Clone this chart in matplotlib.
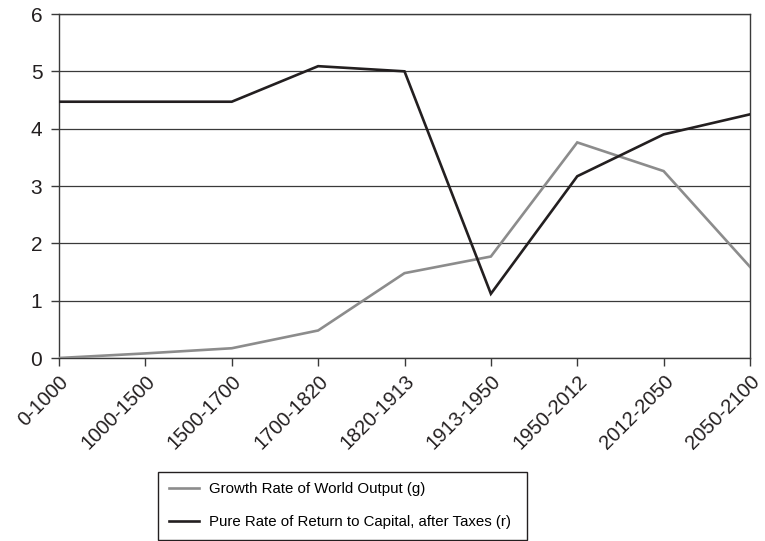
import matplotlib
matplotlib.use("Agg")
import matplotlib.pyplot as plt
from matplotlib import font_manager

periods = ["0-1000", "1000-1500", "1500-1700", "1700-1820", "1820-1913",
           "1913-1950", "1950-2012", "2012-2050", "2050-2100"]
growth_g = [0.0, 0.08, 0.17, 0.48, 1.48, 1.77, 3.76, 3.26, 1.59]
return_r = [4.47, 4.47, 4.47, 5.09, 5.0, 1.12, 3.17, 3.9, 4.25]
y_ticks = [0, 1, 2, 3, 4, 5, 6]

label_g = "Growth Rate of World Output (g)"
label_r = "Pure Rate of Return to Capital, after Taxes (r)"

installed = {f.name for f in font_manager.fontManager.ttflist}
base_font = "Liberation Sans" if "Liberation Sans" in installed else "DejaVu Sans"
plt.rcParams["font.family"] = [base_font, "DejaVu Sans"]

fig = plt.figure(figsize=(7.65, 5.41), dpi=100)
ax = fig.add_axes([59 / 765, 1 - 358 / 541, (750 - 59) / 765, (358 - 14) / 541])

x = list(range(len(periods)))
ax.plot(x, growth_g, color="#8c8c8c", lw=1.9, label=label_g, zorder=3,
        solid_joinstyle="miter")
ax.plot(x, return_r, color="#231f20", lw=1.9, label=label_r, zorder=4,
        solid_joinstyle="miter")

ax.set_xlim(0, len(periods) - 1)
ax.set_ylim(0, 6)
ax.set_yticks(y_ticks)
ax.set_yticklabels([str(v) for v in y_ticks], fontsize=15, color="#231f20")
ax.set_xticks(x)
ax.set_xticklabels(periods, fontsize=14.5, rotation=45, ha="right",
                   rotation_mode="anchor", color="#231f20")

ax.yaxis.grid(True, color="#3a3a3a", lw=0.9)
ax.set_axisbelow(True)
for side in ["left", "right", "top", "bottom"]:
    ax.spines[side].set_color("#3a3a3a")
    ax.spines[side].set_linewidth(1.0)
ax.tick_params(axis="both", direction="out", length=6, width=1.0,
               color="#3a3a3a")
ax.tick_params(axis="x", pad=4)
ax.tick_params(axis="y", pad=6)

# Legend box spans a fixed strip under the tick labels
leg_left, leg_right, leg_top = 158 / 765, 527 / 765, 1 - 472 / 541
leg = fig.legend(loc="upper left",
                 bbox_to_anchor=(leg_left, 0, leg_right - leg_left, leg_top),
                 mode="expand", borderaxespad=0,
                 frameon=True, fancybox=False, framealpha=1,
                 edgecolor="#231f20", handlelength=2.0, handletextpad=0.7,
                 borderpad=0.7, labelspacing=1.25,
                 prop={"size": 10.8})
leg.get_frame().set_linewidth(1.0)

fig.savefig("out.png", dpi=100)
